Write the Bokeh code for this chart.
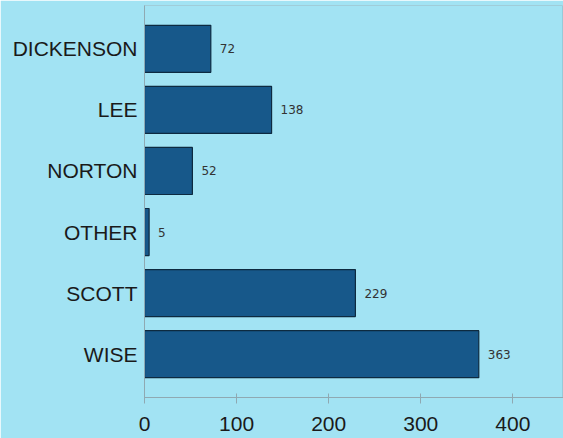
from bokeh.plotting import figure
from bokeh.models import ColumnDataSource, Range1d, FactorRange, FixedTicker
from bokeh.core.properties import value
from bokeh.embed import file_html
from bokeh.resources import INLINE

categories = ["DICKENSON", "LEE", "NORTON", "OTHER", "SCOTT", "WISE"]
counts = [72, 138, 52, 5, 229, 363]
x_ticks = [0, 100, 200, 300, 400]

BG = "#a2e3f3"
BAR = "#17588a"

src = ColumnDataSource(dict(cat=categories, val=counts, lab=[str(v) for v in counts]))

p = figure(width=563, height=438, output_backend="svg", toolbar_location=None,
           y_range=FactorRange(factors=list(reversed(categories))),
           x_range=Range1d(0, 455),
           min_border_left=144, min_border_right=0, min_border_top=5, min_border_bottom=41)
p.y_range.range_padding = 0.07

p.background_fill_color = BG
p.border_fill_color = BG
p.outline_line_color = "#8fb9c6"
p.outline_line_alpha = 0.6
p.xgrid.grid_line_color = None
p.ygrid.grid_line_color = None

p.hbar(y="cat", right="val", left=0, height=0.77, source=src,
       fill_color=BAR, line_color="#0d2a40", line_width=1.2)

p.text(x="val", y="cat", text="lab", source=src, x_offset=9,
       text_baseline="middle", text_align="left", text_font_size="12px",
       text_font=value("DejaVu Sans"), text_color="#333333")

p.xaxis.ticker = FixedTicker(ticks=x_ticks)
p.xaxis.axis_line_color = "#8fa9b2"
p.xaxis.major_tick_line_color = "#8fa9b2"
p.xaxis.major_tick_in = 4
p.xaxis.major_tick_out = 6
p.xaxis.minor_tick_line_color = None
p.xaxis.major_label_text_font = "Liberation Sans"
p.xaxis.major_label_text_font_size = "21px"
p.xaxis.major_label_text_color = "#1a1a1a"
p.xaxis.major_label_standoff = 13

p.yaxis.axis_line_color = "#8fa9b2"
p.yaxis.major_tick_line_color = None
p.yaxis.major_tick_in = 0
p.yaxis.major_tick_out = 0
p.yaxis.minor_tick_line_color = None
p.yaxis.major_label_text_font = "Liberation Sans"
p.yaxis.major_label_text_font_size = "21px"
p.yaxis.major_label_text_color = "#1a1a1a"
p.yaxis.major_label_standoff = 7

open("out.html", "w").write(file_html(p, INLINE))
